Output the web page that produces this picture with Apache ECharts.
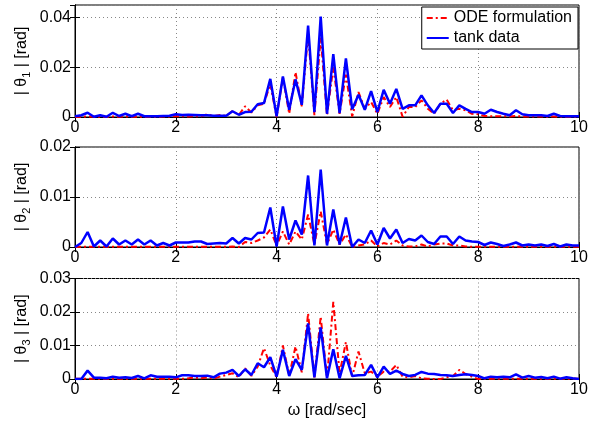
<!DOCTYPE html>
<html><head><meta charset="utf-8">
<script src="https://cdn.jsdelivr.net/npm/echarts@6/dist/echarts.min.js"></script>
<style>html,body{margin:0;padding:0;background:#fff}#c{width:606px;height:421px}</style>
</head><body><div id="c"></div>
<script>
// frequency grid [rad/sec]
const omega = [0,0.125,0.25,0.375,0.5,0.625,0.75,0.875,1,1.125,1.25,1.375,1.5,1.625,1.75,1.875,2,2.125,2.25,2.375,2.5,2.625,2.75,2.875,3,3.125,3.25,3.375,3.5,3.625,3.75,3.875,4,4.125,4.25,4.375,4.5,4.625,4.75,4.875,5,5.125,5.25,5.375,5.5,5.625,5.75,5.875,6,6.125,6.25,6.375,6.5,6.625,6.75,6.875,7,7.125,7.25,7.375,7.5,7.625,7.75,7.875,8,8.125,8.25,8.375,8.5,8.625,8.75,8.875,9,9.125,9.25,9.375,9.5,9.625,9.75,9.875,10];
const xTicks = [0,2,4,6,8,10];
const seriesNames = ['ODE formulation','tank data'];
// amplitudes in 1e-3 rad
const theta1Tank = [0.3,0.7,1.7,0.1,0.7,0.1,1.7,0.4,1.3,0.3,1.3,0.3,0.3,0.3,0.4,0.5,1.1,0.8,0.9,0.8,0.7,0.7,0.5,0.5,0.5,2.3,0.9,2.0,2.1,5.1,5.6,15.3,0.3,16.3,2.9,15.1,4.9,36.7,1.9,40.3,1.3,25.3,1.6,23.5,3.1,8.9,2.9,10.4,2.0,10.9,5.3,11.3,3.3,4.7,4.7,8.7,4.7,1.6,5.3,5.3,1.6,4.7,3.3,2.0,2.0,1.3,2.9,2.0,1.3,0.7,2.7,1.1,0.7,0.7,0.7,0.4,1.3,0.4,0.3,0.3,0.3];
const theta1Ode = [0,0.1,0.2,0.1,0.1,0.1,0.2,0.1,0.2,0.1,0.1,0.1,0.1,0.1,0.2,0.2,0.3,0.3,0.2,0.3,0.3,1.1,0.4,0.8,0.4,2.4,0.8,4.3,1.8,4.7,5.3,13.3,0,16,1.3,18,4.3,33.3,0.7,32,0.7,20,1.3,17,0.2,10,3.3,6,1.3,8,4,8,0.1,4,4,6.7,3.3,1.3,5.3,7,2.7,3.3,2.7,1.3,1.1,0.4,0.3,0.3,0.3,0.2,0.4,0.2,0.2,0.2,0.2,0.1,0.2,0.1,0.1,0.1,0.1];
const theta2Tank = [0,0.8,3.0,0.1,1.3,0.1,1.7,0.5,1.3,0.5,1.5,0.5,1.3,0.3,0.8,0.3,0.9,0.9,0.9,1.1,1.1,0.6,0.7,0.8,0.7,1.8,0.7,1.8,1.5,2.8,2.9,7.9,0.1,8.1,1.5,5.3,2.5,14.3,0.3,15.5,0.3,7.5,0.5,5.9,0,1.5,0.8,3.3,0.5,3.8,1.7,3.5,0.8,1.6,1.3,2.3,1.0,0.6,2.1,2.1,0.6,2.1,1.3,1.1,1.0,0.4,0.9,0.6,0.2,0.5,0.9,0.3,0.5,0.3,0.5,0.2,0.6,0.1,0.5,0.3,0.3];
const theta2Ode = [0,0.05,0.05,0.05,0.05,0.05,0.05,0.05,0.05,0.05,0.05,0.05,0.05,0.05,0.05,0.05,0.05,0.05,0.05,0.05,0.05,0.05,0.05,0.05,0.05,0.1,0,1.0,0.8,1.3,1.9,3.5,0.3,3.1,0.5,3.1,1.5,6.5,0.5,7.1,0.5,3.5,0.5,2.5,0,0.3,0.5,1.3,0.1,0.8,0.5,1.3,0.3,0.1,0.1,0.5,0.1,0.5,0.7,0.7,0.3,0.3,0.1,0.05,0.05,0.05,0.05,0.05,0.05,0.05,0.05,0.05,0.05,0.05,0.05,0.05,0.05,0.05,0.05,0.05,0.05];
const theta3Tank = [0,0,2.5,0.4,0.4,0.2,0.7,0.4,0.5,0.3,0.9,0.2,1.1,0.7,0.7,0.7,0.5,1.1,1.1,0.9,0.9,1.0,0.5,1.6,1.9,2.7,0.9,2.9,1.2,4.7,3.5,6.5,0.7,8.7,0.9,5.9,2.7,16.6,0.5,15.4,0.2,8.9,0.2,6.9,0.9,1.1,1.2,4.2,0.5,3.7,1.5,2.5,1.5,0.9,1.2,2.1,1.6,1.5,1.2,1.1,0.9,1.2,1.4,1.2,0.9,0.2,0.7,0.5,0.7,0.5,1.4,0.4,0.9,0.4,0.6,0.2,0.7,0.1,0.5,0.2,0];
const theta3Ode = [0.05,0.05,0.05,0.05,0.05,0.05,0.05,0.05,0.05,0.05,0.05,0.05,0.05,0.05,0.05,0.05,0.05,0.05,0.2,0.4,0.2,0.5,0.1,0.7,1.2,1.7,0.5,3.2,0.9,3.7,9.2,4,0.5,10,1,9.7,2,19.6,0.5,18.6,0.3,23,1.7,11,0.7,8.2,1.7,2.2,0.7,2.2,2.2,4.2,0.7,0.5,0.9,0.2,0.1,0,0,0.5,0.9,2.7,1.5,0.7,0,0.05,0.05,0.05,0.05,0.05,0.05,0.05,0.05,0.05,0.05,0.05,0.05,0.05,0.05,0.05,0.05];
const yMax = [0.045,0.02,0.03];
const yInterval = [0.02,0.01,0.01];

const tankData = [theta1Tank, theta2Tank, theta3Tank];
const odeData = [theta1Ode, theta2Ode, theta3Ode];
const pair = (arr) => omega.map((w,i)=>[w, arr[i]/1000]);

const FONT = 'Liberation Sans, Arial, Helvetica, sans-serif';
const grids = [
  {left:75, width:504, top:5, height:112},
  {left:75, width:504, top:147, height:100},
  {left:75, width:504, top:278.5, height:100.5}
].map(g=>Object.assign(g,{show:true,borderColor:'#000',borderWidth:1,containLabel:false}));

const xAxes = [], yAxes = [], series = [];
for (let k=0;k<3;k++){
  xAxes.push({
    type:'value', gridIndex:k, min:xTicks[0], max:xTicks[xTicks.length-1], interval:xTicks[1]-xTicks[0],
    axisLine:{show:true,onZero:false,lineStyle:{color:'#000',width:1}},
    axisTick:{inside:true,length:5,lineStyle:{color:'#000'}},
    axisLabel:{color:'#000',fontFamily:FONT,fontSize:16,margin:3},
    splitLine:{show:true,lineStyle:{color:'#888',type:[1,3],width:1}},
    name: k===2 ? 'ω [rad/sec]' : '', nameLocation:'middle', nameGap:24,
    nameTextStyle:{color:'#000',fontFamily:FONT,fontSize:16}
  });
  xAxes.push({
    type:'value', gridIndex:k, position:'top', min:xTicks[0], max:xTicks[xTicks.length-1], interval:xTicks[1]-xTicks[0],
    axisLine:{show:true,lineStyle:{color:'#000'}}, axisTick:{inside:true,length:5,lineStyle:{color:'#000'}},
    axisLabel:{show:false}, splitLine:{show:false}
  });
  yAxes.push({
    type:'value', gridIndex:k, min:0, max:yMax[k], interval:yInterval[k],
    axisLine:{show:true,onZero:false,lineStyle:{color:'#000',width:1}},
    axisTick:{inside:true,length:5,lineStyle:{color:'#000'}},
    axisLabel:{color:'#000',fontFamily:FONT,fontSize:16,margin:4,showMaxLabel: k!==0,
      formatter:(v)=> v===0 ? '0' : String(+v.toFixed(3))},
    splitLine:{show:true,lineStyle:{color:'#888',type:[1,3],width:1}},
    name:'| θ{s|'+(k+1)+'} | [rad]', nameLocation:'middle', nameGap:43, nameRotate:90,
    nameMoveOverlap:false,
    nameTextStyle:{color:'#000',fontFamily:FONT,fontSize:16,
      rich:{s:{fontSize:11,fontFamily:FONT,color:'#000',padding:[9,0,0,0]}}}
  });
  yAxes.push({
    type:'value', gridIndex:k, position:'right', min:0, max:yMax[k], interval:yInterval[k],
    axisLine:{show:true,lineStyle:{color:'#000'}}, axisTick:{inside:true,length:5,lineStyle:{color:'#000'}},
    axisLabel:{show:false}, splitLine:{show:false}
  });
  series.push({
    name:seriesNames[0], type:'line', xAxisIndex:2*k, yAxisIndex:2*k, data:pair(odeData[k]),
    symbol:'none', clip:true, lineStyle:{color:'#ff0000',width:2,type:[6,3,2,3]}, itemStyle:{color:'#ff0000'}, z:2
  });
  series.push({
    name:seriesNames[1], type:'line', xAxisIndex:2*k, yAxisIndex:2*k, data:pair(tankData[k]),
    symbol:'none', clip:true, lineStyle:{color:'#0000ff',width:2.5}, itemStyle:{color:'#0000ff'}, z:3
  });
}

const chart = echarts.init(document.getElementById('c'), null, {renderer:'canvas'});
chart.setOption({
  backgroundColor:'#fff',
  animation:false,
  grid:grids, xAxis:xAxes, yAxis:yAxes, series:series,
  legend:{
    data:seriesNames, orient:'vertical', right:28, top:7,
    backgroundColor:'#fff', borderColor:'#000', borderWidth:1, borderRadius:0,
    padding:[3,6,3,4], itemGap:4, itemWidth:22, itemHeight:16,
    itemStyle:{opacity:0},
    textStyle:{color:'#000',fontFamily:FONT,fontSize:16}
  }
});
</script></body></html>
